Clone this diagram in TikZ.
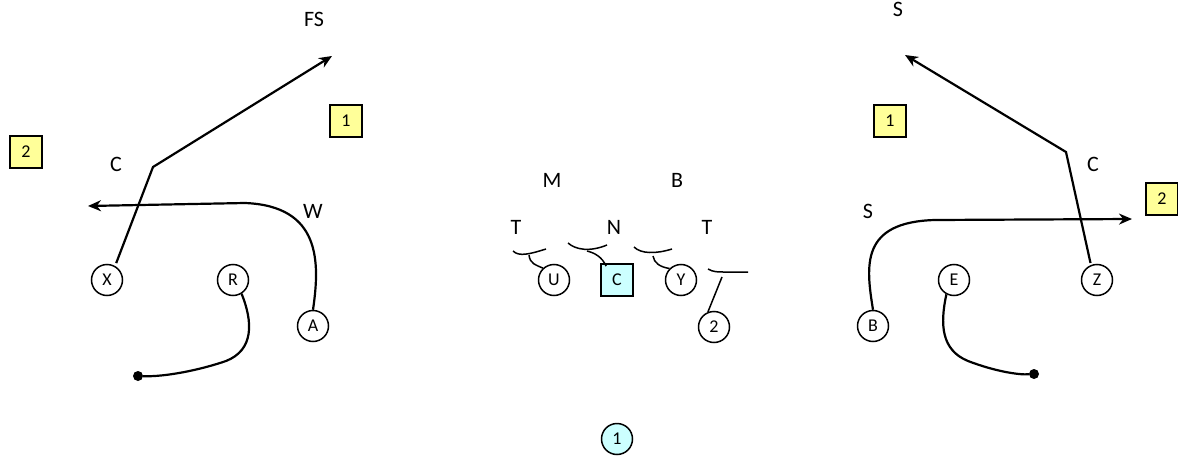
\documentclass[tikz,border=0pt]{standalone}
\usepackage{fontspec}
\setmainfont{Carlito}
\usetikzlibrary{arrows.meta}
\definecolor{zoneYellow}{HTML}{FFFF99}
\definecolor{snapCyan}{HTML}{CCFFFF}

\begin{document}
\begin{tikzpicture}[
    x=1pt, y=-1pt,
    player/.style={circle, draw, line width=1.5pt, minimum size=31pt, inner sep=0pt, font=\fontsize{18}{18}\selectfont},
    snapper/.style={rectangle, draw, line width=1.7pt, fill=snapCyan, minimum size=32pt, inner sep=0pt, font=\fontsize{18}{18}\selectfont},
    zone/.style={rectangle, draw, line width=1.7pt, fill=zoneYellow, minimum size=32pt, inner sep=0pt, font=\fontsize{18}{18}\selectfont},
    lbl/.style={font=\fontsize{22}{22}\selectfont, inner sep=0pt},
    route/.style={line width=2.2pt},
    arr/.style={route, -{Stealth[length=13pt, width=11pt]}},
    block/.style={line width=1.5pt},
    dot/.style={circle, fill, inner sep=0pt, minimum size=10pt}
]
\useasboundingbox (0,0) rectangle (1178,460);

% defenders
\node[lbl] (fs) at (314,19) {FS};
\node[lbl] (ss) at (898,9) {S};
\node[lbl] (cl) at (116,164) {C};
\node[lbl] (cr) at (1093,164) {C};
\node[lbl] (w) at (313,211) {W};
\node[lbl] (s) at (868,211) {S};
\node[lbl] (m) at (552,180) {M};
\node[lbl] (b) at (677,180) {B};
\node[lbl] (tl) at (516,227) {T};
\node[lbl] (n) at (614,227) {N};
\node[lbl] (tr) at (707,227) {T};

% zones
\node[zone] (zl1) at (346,121) {1};
\node[zone] (zl2) at (26,152) {2};
\node[zone] (zr1) at (890,121) {1};
\node[zone] (zr2) at (1162,199) {2};

% offense
\node[player] (x) at (107,280) {X};
\node[player] (r) at (233,280) {R};
\node[player] (a) at (313,326) {A};
\node[player] (u) at (554,280) {U};
\node[snapper] (c) at (617,280) {C};
\node[player] (y) at (681,280) {Y};
\node[player] (two) at (714,327) {2};
\node[player] (bk) at (873,326) {B};
\node[player] (e) at (954,280) {E};
\node[player] (z) at (1097,280) {Z};
\node[player, fill=snapCyan] (qb) at (617,439) {1};

\node[dot] (rDot) at (138,376) {};
\node[dot] (eDot) at (1034,374) {};

\coordinate (xBreak) at (153,167);
\coordinate (xEnd) at (332,56);
\coordinate (aEnd) at (88,206);
\coordinate (zBreak) at (1066,152);
\coordinate (zEnd) at (905,55);
\coordinate (bEnd) at (1132,219);

% routes
\draw[arr, shorten <=3pt] (x.60) -- (xBreak) -- (xEnd);
\draw[arr] (a.north) .. controls (320,262) and (321,206) .. (245,203) -- (aEnd);
\draw[route] (r.-58) .. controls (253,322) and (254,350) .. (226,361) .. controls (200,370) and (165,377) .. (rDot);
\draw[arr, shorten <=2pt] (z.112) -- (zBreak) -- (zEnd);
\draw[arr] (bk.north) .. controls (866,266) and (860,222) .. (935,220) -- (bEnd);
\draw[route] (e.-118) .. controls (940,324) and (941,350) .. (968,361) .. controls (994,371) and (1018,375) .. (eDot);

% blocks
\draw[block] (513,251) .. controls (519,257) and (530,254) .. (546,249);
\draw[block] (529,255) .. controls (530,264) and (536,265) .. (u.133);
\draw[block] (568,243) .. controls (576,250) and (590,252) .. (607,245);
\draw[block] (587,251) .. controls (595,253) and (602,257) .. ([xshift=6pt, yshift=-3pt]c.north west);
\draw[block] (634,247) .. controls (641,254) and (656,254) .. (672,249);
\draw[block] (653,256) .. controls (654,263) and (660,267) .. (y.135);
\draw[block] (708,269) .. controls (713,272) and (718,272) .. (723,272) -- (748,272);
\draw[block] (722,277) -- (two.112);
\end{tikzpicture}
\end{document}
